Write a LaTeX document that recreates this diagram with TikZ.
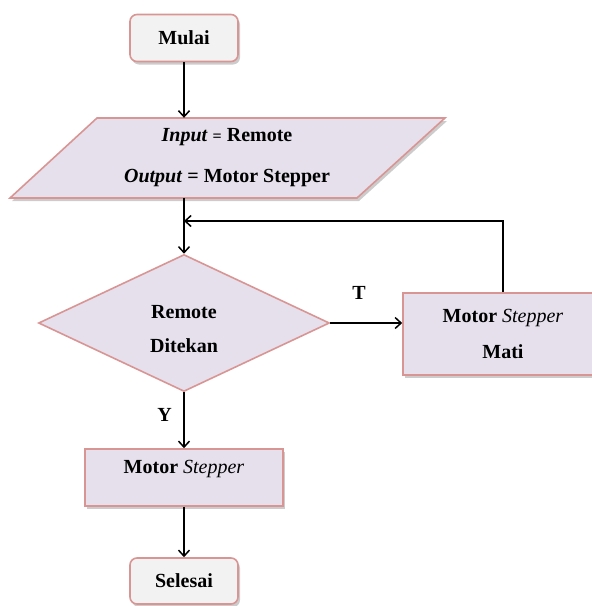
\documentclass[tikz,border=0pt]{standalone}
\usepackage{fontspec}
\setmainfont{Liberation Serif}
\usetikzlibrary{shapes.geometric,shadows,arrows.meta,positioning}
\definecolor{rim}{HTML}{D99594}
\definecolor{lilac}{HTML}{E5E0EC}
\definecolor{pale}{HTML}{F2F2F2}
\begin{document}
\begin{tikzpicture}[x=1pt, y=-1pt, >={Straight Barb[length=6pt,width=11pt]},
  font=\fontsize{20pt}{24pt}\selectfont\bfseries,
  shade/.style={drop shadow={shadow xshift=2pt, shadow yshift=-3pt, fill=black!40}},
  term/.style={draw=rim, line width=1.6pt, fill=pale, rounded corners=7pt, shade, minimum width=108pt, minimum height=47pt},
  proc/.style={draw=rim, line width=1.6pt, fill=lilac, shade, align=center},
  dec/.style={diamond, draw=rim, line width=1.6pt, fill=lilac, inner sep=0pt, aspect=2.1, minimum width=291pt, minimum height=137pt},
  flow/.style={->, line width=1.5pt}]
\useasboundingbox (0,0) rectangle (592,606);
\node[term] (start) at (184,38) {Mulai};
\draw[draw=rim, line width=1.6pt, fill=lilac, shade] (97,118) -- (445,118) -- (357,198) -- (10,198) -- cycle;
\node[align=center, inner sep=0pt, minimum height=80pt] (io) at (227,158) {\textit{Input} {\fontsize{16pt}{16pt}\selectfont=} Remote\\[17pt]\textit{Output} = Motor Stepper};
\node[dec] (ask) at (184,323) {};
\node[align=center] (askText) at (184,329) {Remote\\[10pt]Ditekan};
\node[proc, minimum width=200pt, minimum height=82pt] (off) at (503,334) {Motor \textit{\mdseries Stepper}\\[12pt]Mati};
\node[proc, minimum width=198pt, minimum height=57pt, text depth=21pt] (run) at (184,477.5) {Motor \textit{\mdseries Stepper}};
\node[term, minimum height=46pt] (stop) at (184,581) {Selesai};
\coordinate (back) at (184,221);
\draw[flow] (start) -- (start |- io.north);
\draw[flow] (start |- io.south) -- (ask);
\draw[flow] (ask.east) -- node[pos=0.4, above=19pt]{T} (ask.east -| off.west);
\draw[flow] (off.north) |- (back);
\draw[flow] (ask) -- node[pos=0.4, left=8pt]{Y} (run);
\draw[flow] (run) -- (stop);
\end{tikzpicture}
\end{document}
